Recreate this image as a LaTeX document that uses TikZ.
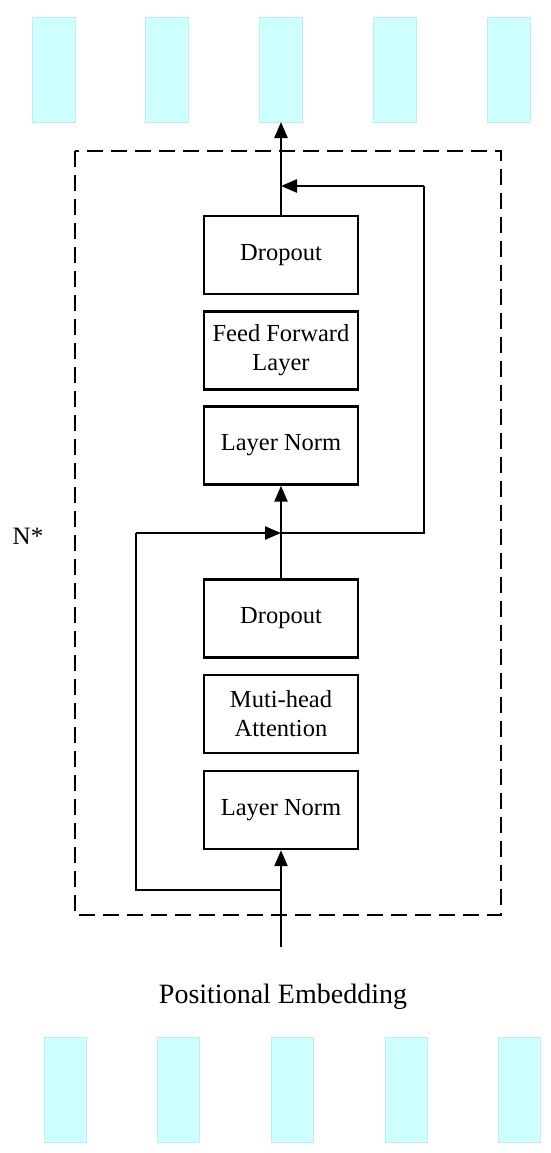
\documentclass[tikz,border=0pt]{standalone}
\usepackage{fontspec}
\setmainfont{Liberation Serif}
\usetikzlibrary{arrows.meta}
\definecolor{cyanfill}{HTML}{CCFFFF}
\definecolor{cyanedge}{HTML}{C4EAEA}
\tikzset{
  emb/.style={fill=cyanfill, draw=cyanedge, line width=0.8pt},
  layerbox/.style={draw=black, line width=2.4pt, minimum width=154pt, minimum height=78pt,
    inner sep=0pt, align=center, font=\fontsize{24.5}{29}\selectfont},
  conn/.style={line width=2.4pt, -{Triangle[length=16pt,width=13pt]}},
  plain/.style={line width=2.4pt},
  frame/.style={draw=black, line width=2.8pt, dash pattern=on 16pt off 8pt}
}
\begin{document}
\begin{tikzpicture}[x=1pt,y=-1pt]
\useasboundingbox (0,0) rectangle (550,1153);
% top embeddings
\foreach \xx in {32,145,259,373,487}{
  \draw[emb] (\xx,17) rectangle (\xx+43,122);
}
\coordinate (outtop) at (281,122);
% bottom embeddings
\foreach \xx in {44,157,271,385,498}{
  \draw[emb] (\xx,1037) rectangle (\xx+42,1142);
}
% dashed frame
\draw[frame] (75,151) rectangle (501,915);
% boxes
\node[layerbox] (drop2) at (281,255) {Dropout};
\node[layerbox] (ff) at (281,350.5) {Feed Forward\\Layer};
\node[layerbox] (ln2) at (281,445.5) {Layer Norm};
\node[layerbox] (drop1) at (281,618.5) {Dropout};
\node[layerbox] (mha) at (281,714) {Muti-head\\Attention};
\node[layerbox] (ln1) at (281,810) {Layer Norm};
% coordinates
\coordinate (in) at (281,947);
\coordinate (split1) at (281,890);
\coordinate (lb) at (136,890);
\coordinate (lt) at (136,533);
\coordinate (join1) at (281,533);
\coordinate (rb) at (424,533);
\coordinate (rt) at (424,186);
\coordinate (join2) at (281,186);
% connectors
\draw[conn] (in) -- (ln1.south);
\draw[plain] (split1) -- (lb) -- (lt);
\draw[conn] (lt) -- (join1);
\draw[conn] (drop1.north) -- (ln2.south);
\draw[plain] (join1) -- (rb) -- (rt);
\draw[conn] (rt) -- (join2);
\draw[conn] (drop2.north) -- (outtop);
% labels
\node[font=\fontsize{25}{29}\selectfont] (nlabel) at (28,536) {N*};
\node[font=\fontsize{28}{32}\selectfont] (pelabel) at (283,997) {Positional Embedding};
\end{tikzpicture}
\end{document}
